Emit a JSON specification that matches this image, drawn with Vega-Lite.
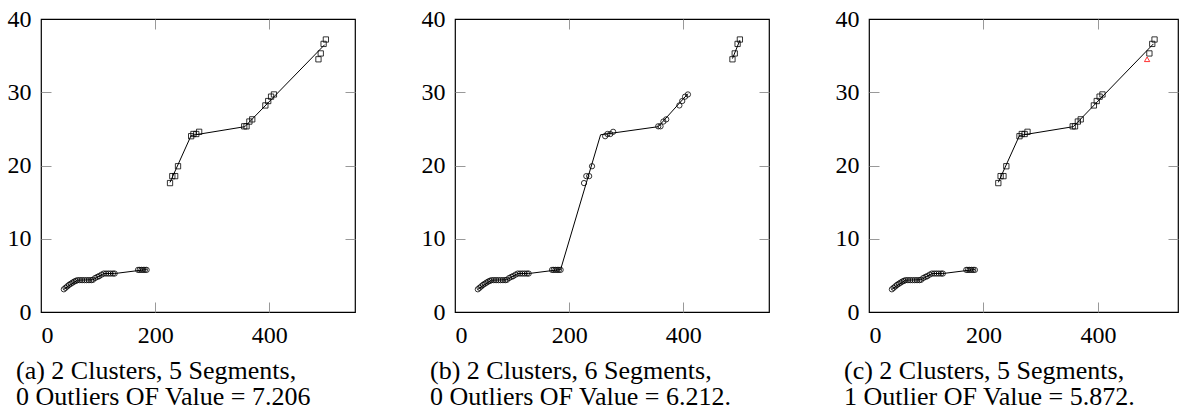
{
  "$schema": "https://vega.github.io/schema/vega-lite/v6.json",
  "background": "white",
  "padding": {"left": 6, "top": 6, "right": 0, "bottom": 0},
  "spacing": 100,
  "bounds": "flush",
  "datasets": {
    "pts": [
      {"x": 40, "y": 3.1, "a": "C1", "b": "C1", "c": "C1"},
      {"x": 43, "y": 3.3, "a": "C1", "b": "C1", "c": "C1"},
      {"x": 46, "y": 3.5, "a": "C1", "b": "C1", "c": "C1"},
      {"x": 49, "y": 3.7, "a": "C1", "b": "C1", "c": "C1"},
      {"x": 52, "y": 3.85, "a": "C1", "b": "C1", "c": "C1"},
      {"x": 55, "y": 4.0, "a": "C1", "b": "C1", "c": "C1"},
      {"x": 58, "y": 4.15, "a": "C1", "b": "C1", "c": "C1"},
      {"x": 61, "y": 4.25, "a": "C1", "b": "C1", "c": "C1"},
      {"x": 64, "y": 4.35, "a": "C1", "b": "C1", "c": "C1"},
      {"x": 68, "y": 4.35, "a": "C1", "b": "C1", "c": "C1"},
      {"x": 72, "y": 4.35, "a": "C1", "b": "C1", "c": "C1"},
      {"x": 76, "y": 4.35, "a": "C1", "b": "C1", "c": "C1"},
      {"x": 80, "y": 4.35, "a": "C1", "b": "C1", "c": "C1"},
      {"x": 84, "y": 4.35, "a": "C1", "b": "C1", "c": "C1"},
      {"x": 88, "y": 4.35, "a": "C1", "b": "C1", "c": "C1"},
      {"x": 91, "y": 4.4, "a": "C1", "b": "C1", "c": "C1"},
      {"x": 95, "y": 4.65, "a": "C1", "b": "C1", "c": "C1"},
      {"x": 99, "y": 4.8, "a": "C1", "b": "C1", "c": "C1"},
      {"x": 102, "y": 4.9, "a": "C1", "b": "C1", "c": "C1"},
      {"x": 106, "y": 5.1, "a": "C1", "b": "C1", "c": "C1"},
      {"x": 110, "y": 5.25, "a": "C1", "b": "C1", "c": "C1"},
      {"x": 114, "y": 5.25, "a": "C1", "b": "C1", "c": "C1"},
      {"x": 118, "y": 5.25, "a": "C1", "b": "C1", "c": "C1"},
      {"x": 122, "y": 5.25, "a": "C1", "b": "C1", "c": "C1"},
      {"x": 126, "y": 5.25, "a": "C1", "b": "C1", "c": "C1"},
      {"x": 129, "y": 5.25, "a": "C1", "b": "C1", "c": "C1"},
      {"x": 170, "y": 5.75, "a": "C1", "b": "C1", "c": "C1"},
      {"x": 173, "y": 5.75, "a": "C1", "b": "C1", "c": "C1"},
      {"x": 176, "y": 5.75, "a": "C1", "b": "C1", "c": "C1"},
      {"x": 179, "y": 5.75, "a": "C1", "b": "C1", "c": "C1"},
      {"x": 182, "y": 5.75, "a": "C1", "b": "C1", "c": "C1"},
      {"x": 185, "y": 5.75, "a": "C1", "b": "C1", "c": "C1"},
      {"x": 226, "y": 17.6, "a": "C2", "b": "C1", "c": "C2"},
      {"x": 230, "y": 18.55, "a": "C2", "b": "C1", "c": "C2"},
      {"x": 235, "y": 18.55, "a": "C2", "b": "C1", "c": "C2"},
      {"x": 240, "y": 19.9, "a": "C2", "b": "C1", "c": "C2"},
      {"x": 263, "y": 24.0, "a": "C2", "b": "C1", "c": "C2"},
      {"x": 267, "y": 24.3, "a": "C2", "b": "C1", "c": "C2"},
      {"x": 272, "y": 24.3, "a": "C2", "b": "C1", "c": "C2"},
      {"x": 277, "y": 24.6, "a": "C2", "b": "C1", "c": "C2"},
      {"x": 356, "y": 25.35, "a": "C2", "b": "C1", "c": "C2"},
      {"x": 360, "y": 25.35, "a": "C2", "b": "C1", "c": "C2"},
      {"x": 365, "y": 26.0, "a": "C2", "b": "C1", "c": "C2"},
      {"x": 370, "y": 26.3, "a": "C2", "b": "C1", "c": "C2"},
      {"x": 393, "y": 28.2, "a": "C2", "b": "C1", "c": "C2"},
      {"x": 398, "y": 28.8, "a": "C2", "b": "C1", "c": "C2"},
      {"x": 403, "y": 29.4, "a": "C2", "b": "C1", "c": "C2"},
      {"x": 408, "y": 29.7, "a": "C2", "b": "C1", "c": "C2"},
      {"x": 486, "y": 34.5, "a": "C2", "b": "C2", "c": "Outlier"},
      {"x": 490, "y": 35.3, "a": "C2", "b": "C2", "c": "C2"},
      {"x": 495, "y": 36.6, "a": "C2", "b": "C2", "c": "C2"},
      {"x": 499, "y": 37.2, "a": "C2", "b": "C2", "c": "C2"}
    ],
    "lines": [
      {"p": "a", "s": 1, "x": 40, "y": 3.1},
      {"p": "a", "s": 1, "x": 64, "y": 4.35},
      {"p": "a", "s": 1, "x": 91, "y": 4.4},
      {"p": "a", "s": 1, "x": 110, "y": 5.25},
      {"p": "a", "s": 1, "x": 129, "y": 5.25},
      {"p": "a", "s": 1, "x": 185, "y": 5.8},
      {"p": "a", "s": 2, "x": 226, "y": 17.7},
      {"p": "a", "s": 2, "x": 263, "y": 24.1},
      {"p": "a", "s": 2, "x": 357, "y": 25.3},
      {"p": "a", "s": 2, "x": 497, "y": 36.5},
      {"p": "b", "s": 1, "x": 40, "y": 3.1},
      {"p": "b", "s": 1, "x": 64, "y": 4.35},
      {"p": "b", "s": 1, "x": 91, "y": 4.4},
      {"p": "b", "s": 1, "x": 110, "y": 5.25},
      {"p": "b", "s": 1, "x": 129, "y": 5.25},
      {"p": "b", "s": 1, "x": 185, "y": 5.8},
      {"p": "b", "s": 1, "x": 255, "y": 24.2},
      {"p": "b", "s": 1, "x": 356, "y": 25.3},
      {"p": "b", "s": 1, "x": 408, "y": 29.8},
      {"p": "b", "s": 2, "x": 486, "y": 34.6},
      {"p": "b", "s": 2, "x": 499, "y": 37.1},
      {"p": "c", "s": 1, "x": 40, "y": 3.1},
      {"p": "c", "s": 1, "x": 64, "y": 4.35},
      {"p": "c", "s": 1, "x": 91, "y": 4.4},
      {"p": "c", "s": 1, "x": 110, "y": 5.25},
      {"p": "c", "s": 1, "x": 129, "y": 5.25},
      {"p": "c", "s": 1, "x": 185, "y": 5.8},
      {"p": "c", "s": 2, "x": 226, "y": 17.7},
      {"p": "c", "s": 2, "x": 263, "y": 24.1},
      {"p": "c", "s": 2, "x": 357, "y": 25.3},
      {"p": "c", "s": 2, "x": 497, "y": 36.6}
    ]
  },
  "hconcat": [
    {
      "width": 314,
      "height": 293,
      "title": {"text": ["(a) 2 Clusters, 5 Segments,", "0 Outliers OF Value = 7.206"], "orient": "bottom", "anchor": "start", "frame": "group", "dx": -25},
      "layer": [
        {
          "data": {"name": "lines"},
          "transform": [{"filter": "datum.p === 'a'"}],
          "mark": {"type": "line", "color": "black", "strokeWidth": 1},
          "encoding": {
            "x": {"field": "x", "type": "quantitative", "scale": {"domain": [0, 550], "nice": false, "zero": false},
                  "axis": {"orient": "bottom", "values": [0, 200, 400], "tickOpacity": {"condition": {"test": "datum.value === 0", "value": 0}, "value": 1}}},
            "y": {"field": "y", "type": "quantitative", "scale": {"domain": [0, 40], "nice": false},
                  "axis": {"orient": "left", "values": [0, 10, 20, 30, 40], "tickOpacity": {"condition": {"test": "datum.value === 0 || datum.value === 40", "value": 0}, "value": 1}}},
            "detail": {"field": "s", "type": "nominal"}
          }
        },
        {
          "data": {"name": "pts"},
          "mark": {"type": "point", "filled": false, "strokeWidth": 0.8, "size": 28, "opacity": 1},
          "encoding": {
            "x": {"field": "x", "type": "quantitative", "scale": {"domain": [0, 550], "nice": false, "zero": false},
                  "axis": {"orient": "top", "values": [200, 400], "labels": false}},
            "y": {"field": "y", "type": "quantitative", "scale": {"domain": [0, 40], "nice": false},
                  "axis": {"orient": "right", "values": [10, 20, 30], "labels": false}},
            "shape": {"field": "a", "type": "nominal", "scale": {"domain": ["C1", "C2", "Outlier"], "range": ["circle", "square", "triangle-up"]}, "legend": null},
            "color": {"field": "a", "type": "nominal", "scale": {"domain": ["C1", "C2", "Outlier"], "range": ["black", "black", "red"]}, "legend": null}
          }
        }
      ],
      "resolve": {"axis": {"x": "independent", "y": "independent"}}
    },
    {
      "width": 314,
      "height": 293,
      "title": {"text": ["(b) 2 Clusters, 6 Segments,", "0 Outliers OF Value = 6.212."], "orient": "bottom", "anchor": "start", "frame": "group", "dx": -25},
      "layer": [
        {
          "data": {"name": "lines"},
          "transform": [{"filter": "datum.p === 'b'"}],
          "mark": {"type": "line", "color": "black", "strokeWidth": 1},
          "encoding": {
            "x": {"field": "x", "type": "quantitative", "scale": {"domain": [0, 550], "nice": false, "zero": false},
                  "axis": {"orient": "bottom", "values": [0, 200, 400], "tickOpacity": {"condition": {"test": "datum.value === 0", "value": 0}, "value": 1}}},
            "y": {"field": "y", "type": "quantitative", "scale": {"domain": [0, 40], "nice": false},
                  "axis": {"orient": "left", "values": [0, 10, 20, 30, 40], "tickOpacity": {"condition": {"test": "datum.value === 0 || datum.value === 40", "value": 0}, "value": 1}}},
            "detail": {"field": "s", "type": "nominal"}
          }
        },
        {
          "data": {"name": "pts"},
          "mark": {"type": "point", "filled": false, "strokeWidth": 0.8, "size": 28, "opacity": 1},
          "encoding": {
            "x": {"field": "x", "type": "quantitative", "scale": {"domain": [0, 550], "nice": false, "zero": false},
                  "axis": {"orient": "top", "values": [200, 400], "labels": false}},
            "y": {"field": "y", "type": "quantitative", "scale": {"domain": [0, 40], "nice": false},
                  "axis": {"orient": "right", "values": [10, 20, 30], "labels": false}},
            "shape": {"field": "b", "type": "nominal", "scale": {"domain": ["C1", "C2", "Outlier"], "range": ["circle", "square", "triangle-up"]}, "legend": null},
            "color": {"field": "b", "type": "nominal", "scale": {"domain": ["C1", "C2", "Outlier"], "range": ["black", "black", "red"]}, "legend": null}
          }
        }
      ],
      "resolve": {"axis": {"x": "independent", "y": "independent"}}
    },
    {
      "width": 309,
      "height": 293,
      "title": {"text": ["(c) 2 Clusters, 5 Segments,", "1 Outlier OF Value = 5.872."], "orient": "bottom", "anchor": "start", "frame": "group", "dx": -25},
      "layer": [
        {
          "data": {"name": "lines"},
          "transform": [{"filter": "datum.p === 'c'"}],
          "mark": {"type": "line", "color": "black", "strokeWidth": 1},
          "encoding": {
            "x": {"field": "x", "type": "quantitative", "scale": {"domain": [0, 540], "nice": false, "zero": false},
                  "axis": {"orient": "bottom", "values": [0, 200, 400], "tickOpacity": {"condition": {"test": "datum.value === 0", "value": 0}, "value": 1}}},
            "y": {"field": "y", "type": "quantitative", "scale": {"domain": [0, 40], "nice": false},
                  "axis": {"orient": "left", "values": [0, 10, 20, 30, 40], "tickOpacity": {"condition": {"test": "datum.value === 0 || datum.value === 40", "value": 0}, "value": 1}}},
            "detail": {"field": "s", "type": "nominal"}
          }
        },
        {
          "data": {"name": "pts"},
          "mark": {"type": "point", "filled": false, "strokeWidth": 0.8, "size": 28, "opacity": 1},
          "encoding": {
            "x": {"field": "x", "type": "quantitative", "scale": {"domain": [0, 540], "nice": false, "zero": false},
                  "axis": {"orient": "top", "values": [200, 400], "labels": false}},
            "y": {"field": "y", "type": "quantitative", "scale": {"domain": [0, 40], "nice": false},
                  "axis": {"orient": "right", "values": [10, 20, 30], "labels": false}},
            "shape": {"field": "c", "type": "nominal", "scale": {"domain": ["C1", "C2", "Outlier"], "range": ["circle", "square", "triangle-up"]}, "legend": null},
            "color": {"field": "c", "type": "nominal", "scale": {"domain": ["C1", "C2", "Outlier"], "range": ["black", "black", "red"]}, "legend": null}
          }
        }
      ],
      "resolve": {"axis": {"x": "independent", "y": "independent"}}
    }
  ],
  "resolve": {"scale": {"shape": "independent", "color": "independent"}},
  "config": {
    "view": {"stroke": "black", "strokeWidth": 1.2},
    "axis": {
      "title": null,
      "grid": false,
      "domain": false,
      "labelFont": "Liberation Serif",
      "labelFontSize": 24,
      "labelColor": "black",
      "tickColor": "#999999",
      "tickWidth": 1,
      "tickSize": -10
    },
    "axisX": {"labelPadding": 21},
    "axisY": {"labelPadding": 20},
    "title": {
      "font": "Liberation Serif",
      "fontSize": 26,
      "fontWeight": "normal",
      "color": "black",
      "lineHeight": 26,
      "offset": 11
    }
  }
}
